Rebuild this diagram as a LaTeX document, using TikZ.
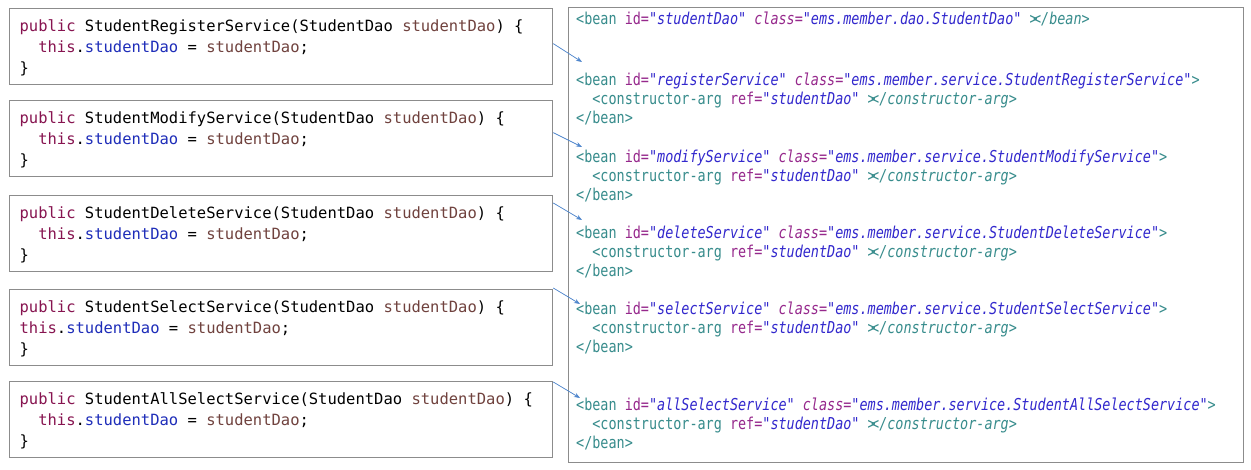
\documentclass[tikz,border=0pt]{standalone}
\usepackage{fontspec}
\usepackage{xcolor}
\usetikzlibrary{arrows.meta, positioning, calc}

\newfontfamily\codefont{DejaVu Sans Mono}
\newfontfamily\xmlfont[FakeStretch=0.82]{DejaVu Sans Mono}

\definecolor{kwcol}{RGB}{135,20,80}
\definecolor{fieldcol}{RGB}{30,45,185}
\definecolor{varcol}{RGB}{112,66,62}
\definecolor{tagcol}{RGB}{55,140,140}
\definecolor{attrcol}{RGB}{150,40,140}
\definecolor{valcol}{RGB}{50,40,205}
\definecolor{boxgray}{RGB}{140,140,140}
\definecolor{linkcol}{RGB}{80,135,205}

% java colouring
\newcommand{\kw}[1]{\textcolor{kwcol}{#1}}
\newcommand{\fld}[1]{\textcolor{fieldcol}{#1}}
\newcommand{\lvar}[1]{\textcolor{varcol}{#1}}
% xml colouring
\newcommand{\tg}[1]{\textcolor{tagcol}{#1}}
\newcommand{\att}[1]{\textcolor{attrcol}{#1}}
\newcommand{\attval}[1]{\textcolor{valcol}{\itshape"#1"}}
\newcommand{\gtlt}{>\kern-0.28em<}
\newcommand{\ctorarg}{\phantom{xx}\tg{<constructor-arg} \att{ref=}\attval{studentDao} \tg{\itshape\gtlt/constructor-arg>}}

\begin{document}
\begin{tikzpicture}[
    x=1pt, y=-1pt, % pixel coordinates, origin top left
    >={Stealth[length=6pt, width=4.5pt]},
    codebox/.style={draw=boxgray, line width=1.3pt, anchor=north west, inner xsep=10pt,
      text width=523pt, minimum height=76pt, align=left,
      font={\codefont\fontsize{15.5}{21}\selectfont},
      execute at begin node={\spaceskip=0pt\xspaceskip=0pt}},
    xmlblock/.style={anchor=north west, inner sep=0pt, align=left,
      font={\xmlfont\fontsize{16.4}{19.3}\selectfont}},
    panel/.style={draw=boxgray, line width=1.3pt, anchor=north west,
      minimum width=675pt, minimum height=455pt},
    link/.style={->, draw=linkcol, fill=linkcol, line width=0.7pt}
  ]

  \fill[white] (0,0) rectangle (1251,470);
  \useasboundingbox (0,0) rectangle (1251,470);

  % java constructors
  \node[codebox] (cReg) at (9,8) {\rule{0pt}{15.5pt}\kw{public} StudentRegisterService(StudentDao \lvar{studentDao}) \{\\
    \phantom{xx}\kw{this}.\fld{studentDao} = \lvar{studentDao};\\
    \}\rule[-4.5pt]{0pt}{4.5pt}};

  \node[codebox] (cMod) at (9,100) {\rule{0pt}{15.5pt}\kw{public} StudentModifyService(StudentDao \lvar{studentDao}) \{\\
    \phantom{xx}\kw{this}.\fld{studentDao} = \lvar{studentDao};\\
    \}\rule[-4.5pt]{0pt}{4.5pt}};

  \node[codebox] (cDel) at (9,195) {\rule{0pt}{15.5pt}\kw{public} StudentDeleteService(StudentDao \lvar{studentDao}) \{\\
    \phantom{xx}\kw{this}.\fld{studentDao} = \lvar{studentDao};\\
    \}\rule[-4.5pt]{0pt}{4.5pt}};

  \node[codebox] (cSel) at (9,289) {\rule{0pt}{15.5pt}\kw{public} StudentSelectService(StudentDao \lvar{studentDao}) \{\\
    \kw{this}.\fld{studentDao} = \lvar{studentDao};\\
    \}\rule[-4.5pt]{0pt}{4.5pt}};

  \node[codebox] (cAll) at (9,381) {\rule{0pt}{15.5pt}\kw{public} StudentAllSelectService(StudentDao \lvar{studentDao}) \{\\
    \phantom{xx}\kw{this}.\fld{studentDao} = \lvar{studentDao};\\
    \}\rule[-4.5pt]{0pt}{4.5pt}};

  % xml bean definitions
  \node[panel] (panel) at (568,7) {};

  \node[xmlblock] (xDao) at (576,11) {\rule{0pt}{13pt}\tg{<bean} \att{id=}\attval{studentDao} \att{\itshape class=}\attval{ems.member.dao.StudentDao} \tg{\itshape\gtlt/bean>}};

  \node[xmlblock] (xReg) at (576,72) {\rule{0pt}{13pt}\tg{<bean} \att{id=}\attval{registerService} \att{\itshape class=}\attval{ems.member.service.StudentRegisterService}\tg{>}\\
    \ctorarg\\
    \tg{</bean>}};

  \node[xmlblock] (xMod) at (576,149) {\rule{0pt}{13pt}\tg{<bean} \att{id=}\attval{modifyService} \att{\itshape class=}\attval{ems.member.service.StudentModifyService}\tg{>}\\
    \ctorarg\\
    \tg{</bean>}};

  \node[xmlblock] (xDel) at (576,225) {\rule{0pt}{13pt}\tg{<bean} \att{id=}\attval{deleteService} \att{\itshape class=}\attval{ems.member.service.StudentDeleteService}\tg{>}\\
    \ctorarg\\
    \tg{</bean>}};

  \node[xmlblock] (xSel) at (576,301) {\rule{0pt}{13pt}\tg{<bean} \att{id=}\attval{selectService} \att{\itshape class=}\attval{ems.member.service.StudentSelectService}\tg{>}\\
    \ctorarg\\
    \tg{</bean>}};

  \node[xmlblock] (xAll) at (576,397) {\rule{0pt}{13pt}\tg{<bean} \att{id=}\attval{allSelectService} \att{\itshape class=}\attval{ems.member.service.StudentAllSelectService}\tg{>}\\
    \ctorarg\\
    \tg{</bean>}};

  % constructor -> bean
  \draw[link] ([yshift=3pt]cReg.east) -- ([xshift=6pt, yshift=10pt]xReg.north west);
  \draw[link] ([yshift=6pt]cMod.east) -- ([xshift=6pt, yshift=2pt]xMod.north west);
  \draw[link] ([yshift=-8pt]cDel.north east) -- ([xshift=6pt, yshift=5pt]xDel.north west);
  \draw[link] ([yshift=1pt]cSel.north east) -- ([xshift=4pt, yshift=-3pt]xSel.north west);
  \draw[link] ([yshift=-1pt]cAll.north east) -- ([xshift=4pt, yshift=-1pt]xAll.north west);

\end{tikzpicture}
\end{document}
